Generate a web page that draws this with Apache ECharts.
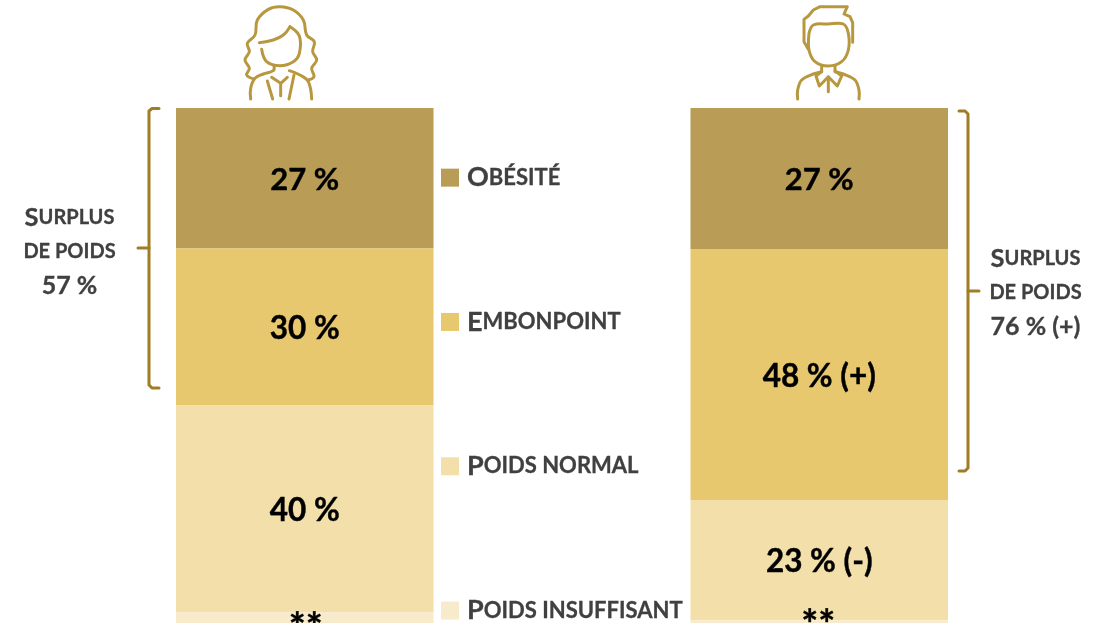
<!DOCTYPE html>
<html><head><meta charset="utf-8">
<style>html,body{margin:0;padding:0;background:#fff}#c{width:1104px;height:623px}</style>
<script src="https://cdn.jsdelivr.net/npm/echarts@6/dist/echarts.min.js"></script>
</head><body><div id="c"></div>
<script>
const categories = ['Femmes', 'Hommes'];
const obesite = [27, 27.1];
const embonpoint = [30.2, 48.3];
const poidsNormal = [39.8, 23.1];
const poidsInsuffisant = [3, 1.5];
const labelsObesite = ['27 %', '27 %'];
const labelsEmbonpoint = ['30 %', '48 % (+)'];
const labelsNormal = ['40 %', '23 % (-)'];
const labelsInsuffisant = ['**', '**'];
const legendNames = ['Obésité', 'Embonpoint', 'Poids normal', 'Poids insuffisant'];
const surplusFemmes = ['Surplus', 'de poids', '57 %'];
const surplusHommes = ['Surplus', 'de poids', '76 % (+)'];

const FONT = 'Lato, Carlito, "Open Sans", sans-serif';
const GOLD = '#b8983f', BR = '#a07c25', GREY = '#404040';
const chart = echarts.init(document.getElementById('c'), null, {renderer: 'canvas'});

function sc(s) {
  return '{a|' + s[0].toUpperCase() + '}{b|' + s.slice(1).toUpperCase() + '}';
}
function seriesOf(name, data, labels, color, offs, size) {
  return {
    name, type: 'bar', stack: 't', barWidth: 257.5, silent: true,
    data: data.map((v, i) => ({value: v, label: {offset: offs[i]}})),
    itemStyle: {color},
    label: {
      show: true, position: 'inside',
      formatter: p => labels[p.dataIndex],
      color: '#000', fontFamily: FONT, fontWeight: 'bold', fontSize: size,
      textBorderColor: '#000', textBorderWidth: 0.4
    }
  };
}
function line(points, ox, oy, k, width, color, smooth) {
  return {
    type: 'polyline', silent: true,
    shape: {points: points.map(p => [ox + p[0] / k, oy + p[1] / k]), smooth: smooth},
    style: {stroke: color, fill: null, lineWidth: width, lineCap: 'round', lineJoin: 'round'}
  };
}
const woman = [
  [[372,237],[350,225],[358,205],[345,180],[358,155],[352,130],[375,105],[382,60],[415,28],[450,20],[490,30],[520,60],[530,105],[553,125],[548,155],[560,180],[545,205],[552,230],[535,240]],
  [[388,128],[430,120],[460,105],[480,80]],
  [[480,80],[508,108],[508,160],[490,185],[450,197],[410,185],[395,148]],
  [[432,197],[430,212],[400,222],[375,235],[362,265],[362,297]],
  [[478,212],[510,225],[535,245],[545,297]]
];
const womanStraight = [
  [[412,243],[428,297]], [[492,225],[477,297]],
  [[425,232],[452,250],[472,232]], [[452,250],[452,287]]
];
const man = [
  [[387,100],[400,75],[445,72],[490,72],[505,100],[505,150],[485,185],[445,198],[405,185],[387,150],[387,100]],
  [[425,215],[400,222],[365,240],[353,270],[353,297]],
  [[465,215],[490,222],[525,240],[537,270],[537,297]]
];
const manStraight = [
  [[385,148],[372,125],[372,58],[385,48],[400,30],[420,20],[502,20],[492,42],[510,50],[518,68],[518,127]],
  [[425,198],[425,215],[408,228],[418,258],[445,230],[472,258],[485,228],[465,212],[465,198]],
  [[445,240],[445,275]]
];
const graphics = [];
woman.forEach(p => graphics.push(line(p, 130, 0, 3, 3, GOLD, 0.4)));
womanStraight.forEach(p => graphics.push(line(p, 130, 0, 3, 3, GOLD, 0)));
man.forEach(p => graphics.push(line(p, 680, 0, 3, 3, GOLD, 0.35)));
manStraight.forEach(p => graphics.push(line(p, 680, 0, 3, 3, GOLD, 0)));
// accolades
graphics.push(line([[159,108.5],[152,108.5],[149,111],[149,385],[152,388],[159,388]], 0, 0, 1, 3, BR, 0));
graphics.push(line([[138,248],[149,248]], 0, 0, 1, 3, BR, 0));
graphics.push(line([[959,111],[965,111],[968,114],[968,468],[965,471],[959,471]], 0, 0, 1, 3, BR, 0));
graphics.push(line([[968,291],[979,291]], 0, 0, 1, 3, BR, 0));

const gBase = {fontFamily: FONT, fontWeight: 'bold', fill: GREY, stroke: GREY, lineWidth: 0.3};
const richSC = {
  a: Object.assign({fontSize: 25.5}, gBase),
  b: Object.assign({fontSize: 20}, gBase),
  c: Object.assign({fontSize: 25}, gBase)
};
const lBase = {fontFamily: FONT, fontWeight: 'bold', color: GREY, textBorderColor: GREY, textBorderWidth: 0.3};
function surplus(lines, cx, ys) {
  lines.forEach((s, i) => {
    const txt = i === 2 ? '{c|' + s + '}' : (i === 0 ? sc(s) : '{b|' + s.toUpperCase() + '}');
    graphics.push({
      type: 'text', silent: true, x: cx, y: ys[i],
      style: {text: txt, rich: richSC, align: 'center', verticalAlign: 'middle', fill: GREY}
    });
  });
}
surplus(surplusFemmes, 69.5, [218, 252, 286]);
surplus(surplusHommes, 1035.5, [259, 293, 327]);

chart.setOption({
  animation: false,
  backgroundColor: '#fff',
  grid: {left: 47.5, top: 108, width: 1029, height: 520, outerBoundsMode: 'none'},
  xAxis: {type: 'category', data: categories, show: false},
  yAxis: {type: 'value', min: 0, max: 100, inverse: true, show: false},
  legend: {
    orient: 'vertical', left: 441, top: 164, height: 520, itemWidth: 18, itemHeight: 18, itemGap: 117, padding: 0,
    icon: 'rect', selectedMode: false, data: legendNames,
    formatter: sc,
    textStyle: {
      fontFamily: FONT, color: GREY,
      rich: {
        a: Object.assign({fontSize: 27, padding: [0, 0, 0, 3]}, lBase),
        b: Object.assign({fontSize: 22}, lBase)
      }
    }
  },
  series: [
    seriesOf(legendNames[0], obesite, labelsObesite, '#b99c56', [[0, 2], [0, 2]], 31),
    seriesOf(legendNames[1], embonpoint, labelsEmbonpoint, '#e8c86f', [[0, 2], [0, 2]], 31.5),
    seriesOf(legendNames[2], poidsNormal, labelsNormal, '#f3dfa9', [[0, 2], [0, 2]], 31.5),
    seriesOf(legendNames[3], poidsInsuffisant, labelsInsuffisant, '#f8ebcb', [[1, 9], [-1, 2]], 40)
  ],
  graphic: graphics
});
</script></body></html>
